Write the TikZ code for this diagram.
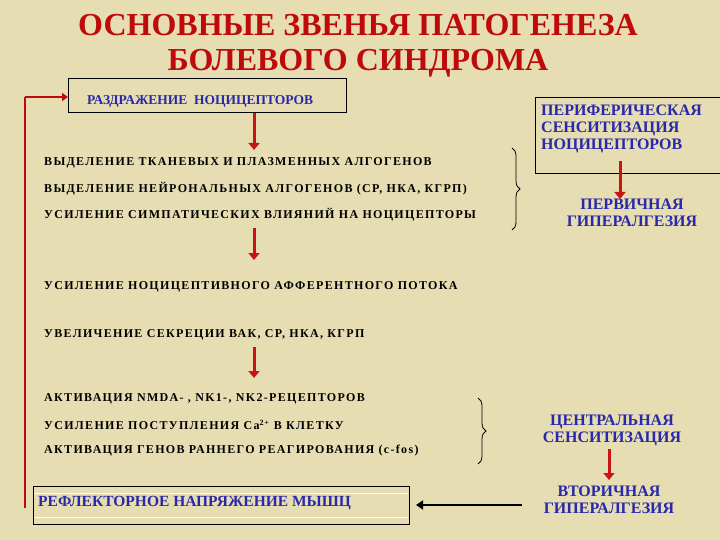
\documentclass[tikz,border=0pt]{standalone}
\usepackage{fontspec}
\setmainfont{Liberation Serif}
\newfontfamily\spfont[LetterSpace=11]{Liberation Serif}
\usetikzlibrary{decorations.pathreplacing,arrows.meta}
\definecolor{bg}{RGB}{230,221,178}
\definecolor{ttl}{RGB}{190,10,10}
\definecolor{blu}{RGB}{40,40,170}
\definecolor{arr}{RGB}{200,20,20}
\tikzset{x=1pt,y=-1pt,
 txt/.style={anchor=west,font=\spfont\bfseries\fontsize{12}{13}\selectfont,inner sep=0},
 btxt/.style={font=\bfseries\fontsize{16}{17}\selectfont,text=blu,align=center,inner sep=0},
 darr/.style={draw=arr,line width=3pt,-{Triangle[length=7pt,width=11pt]}},
 brace/.style={decorate,decoration={brace,amplitude=8pt},thick}}
\begin{document}
\begin{tikzpicture}
\fill[bg] (0,0) rectangle (720,540);
\useasboundingbox (0,0) rectangle (720,540);
\node[font=\bfseries\fontsize{32}{35}\selectfont,text=ttl,align=center] (title) at (358,46) {ОСНОВНЫЕ ЗВЕНЬЯ ПАТОГЕНЕЗА\\БОЛЕВОГО СИНДРОМА};
\node[draw,thick,minimum width=278,minimum height=34,anchor=north west,inner sep=0] (r) at (68,78) {};
\node[font=\bfseries\fontsize{13.5}{14}\selectfont,text=blu,anchor=west,inner sep=0] (rt) at (87,101) {РАЗДРАЖЕНИЕ\ \ НОЦИЦЕПТОРОВ};
\coordinate (l1) at (25,508);
\coordinate (l2) at (25,97);
\coordinate (l3) at (68,97);
\draw[ttl,line width=2.5pt] (l1) -- (l2);
\draw[ttl,line width=2pt,-{Triangle[length=6pt,width=8pt]}] (l2) -- (l3);
\coordinate (a1s) at (254,113); \coordinate (a1e) at (254,150);
\draw[darr] (a1s) -- (a1e);
\node[txt] (t1) at (44,163) {ВЫДЕЛЕНИЕ ТКАНЕВЫХ И ПЛАЗМЕННЫХ АЛГОГЕНОВ};
\node[txt] (t2) at (44,189) {ВЫДЕЛЕНИЕ НЕЙРОНАЛЬНЫХ АЛГОГЕНОВ (СР, НКА, КГРП)};
\node[txt] (t3) at (44,215) {УСИЛЕНИЕ СИМПАТИЧЕСКИХ ВЛИЯНИЙ НА НОЦИЦЕПТОРЫ};
\coordinate (a2s) at (254,228); \coordinate (a2e) at (254,260);
\draw[darr] (a2s) -- (a2e);
\node[txt] (t4) at (44,287) {УСИЛЕНИЕ НОЦИЦЕПТИВНОГО АФФЕРЕНТНОГО ПОТОКА};
\node[txt] (t5) at (44,335) {УВЕЛИЧЕНИЕ СЕКРЕЦИИ ВАК, СР, НКА, КГРП};
\coordinate (a3s) at (254,347); \coordinate (a3e) at (254,378);
\draw[darr] (a3s) -- (a3e);
\node[txt] (t6) at (44,399) {АКТИВАЦИЯ NMDA- , NK1-, NK2-РЕЦЕПТОРОВ};
\node[txt] (t7) at (44,425) {УСИЛЕНИЕ ПОСТУПЛЕНИЯ Ca\textsuperscript{2+} В КЛЕТКУ};
\node[txt] (t8) at (44,451) {АКТИВАЦИЯ ГЕНОВ РАННЕГО РЕАГИРОВАНИЯ (c-fos)};
\node[draw,thick,minimum width=376,minimum height=38,anchor=north west,inner sep=0] (m) at (33,486) {};
\draw[white!90!bg] (34,493) -- (408,493) (34,517) -- (408,517);
\node[font=\bfseries\fontsize{15.5}{16}\selectfont,text=blu,anchor=west,inner sep=0] (mt) at (38,503) {РЕФЛЕКТОРНОЕ НАПРЯЖЕНИЕ МЫШЦ};
\draw[brace] (512,148) -- (512,230);
\draw[brace] (478,398) -- (478,464);
\node[draw,thick,minimum width=200,minimum height=76,anchor=north west,inner sep=0] (p) at (535,97) {};
\node[btxt,anchor=north west,align=left] (pt) at (541,105) {ПЕРИФЕРИЧЕСКАЯ\\СЕНСИТИЗАЦИЯ\\НОЦИЦЕПТОРОВ};
\node[btxt] (pg) at (632,213) {ПЕРВИЧНАЯ\\ГИПЕРАЛГЕЗИЯ};
\coordinate (pa1) at (620,161); \coordinate (pa2) at (620,199);
\draw[darr] (pa1) -- (pa2);
\node[btxt] (ct) at (612,430) {ЦЕНТРАЛЬНАЯ\\СЕНСИТИЗАЦИЯ};
\node[btxt] (vg) at (609,500) {ВТОРИЧНАЯ\\ГИПЕРАЛГЕЗИЯ};
\coordinate (ca1) at (609,449); \coordinate (ca2) at (609,480);
\draw[darr] (ca1) -- (ca2);
\coordinate (bs) at (522,505); \coordinate (be) at (416,505);
\draw[line width=2pt,-{Triangle[length=7pt,width=9pt]}] (bs) -- (be);
\end{tikzpicture}
\end{document}
